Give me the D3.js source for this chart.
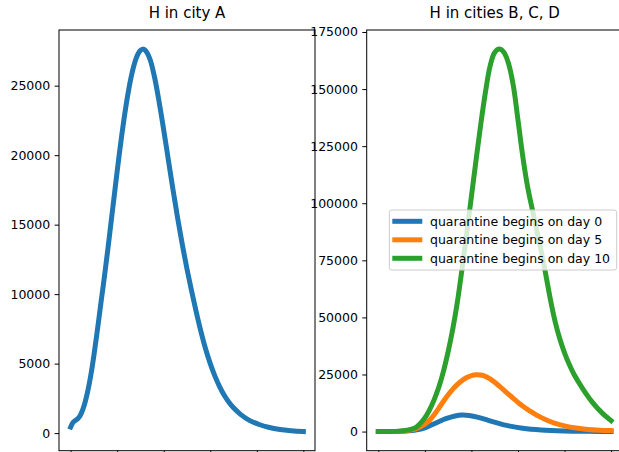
<!DOCTYPE html>
<html>
<head>
<meta charset="utf-8">
<script src="https://cdn.jsdelivr.net/npm/d3@7"></script>
<style>
  html, body { margin: 0; padding: 0; background: #fff; }
  svg { display: block; }
  text { font-family: "DejaVu Sans", sans-serif; fill: #000; }
</style>
</head>
<body>
<svg id="chart" width="619" height="452"></svg>
<script>
// ---------- data ----------
const xTicks = [0, 20, 40, 60, 80, 100];
const yTicksA = [0, 5000, 10000, 15000, 20000, 25000];
const yTicksB = [0, 25000, 50000, 75000, 100000, 125000, 150000, 175000];

const titleA = "H in city A";
const titleB = "H in cities B, C, D";

// city A
const daysA = [0, 1, 2, 3, 4, 5, 6, 7, 8, 9, 10, 11, 12, 13, 14, 15, 16, 17, 18, 19, 20, 21, 22, 23, 24, 25, 26, 27, 28, 29, 30, 31,
               32, 34, 36, 38, 40, 42, 44, 46, 48, 50, 52, 54, 56, 58, 60, 62, 64, 66, 68, 70, 73, 77, 81, 85, 90, 95, 100];
const valsA = [433, 760, 900, 1020, 1230, 1600, 2100, 2750, 3550, 4500, 5600, 6800, 8050, 9350, 10600, 11900, 13250, 14650, 16050, 17450, 18850, 20200, 21480, 22680, 23780, 24760, 25620, 26340, 26900, 27300, 27540, 27630,
               27560, 26950, 25650, 23850, 21800, 19650, 17500, 15450, 13550, 11800, 10200, 8700, 7300, 6050, 5000, 4100, 3350, 2720, 2220, 1820, 1350, 900, 620, 420, 260, 170, 110];

// cities B, C, D
const seriesNames = ["quarantine begins on day 0", "quarantine begins on day 5", "quarantine begins on day 10"];
const seriesColors = ["#1f77b4", "#ff7f0e", "#2ca02c"];

const days0 = [0, 10, 16, 20, 25, 29, 33, 36, 39, 43, 47, 51, 56, 62, 70, 80, 90, 100];
const vals0 = [0, 150, 700, 1600, 3900, 5650, 6850, 7250, 7050, 6200, 5000, 3800, 2500, 1450, 700, 280, 110, 40];

const days5 = [0, 10, 16, 20, 22, 24, 26, 28, 30, 32, 34, 36, 38, 40, 42, 44, 46, 48, 50, 52, 54, 56, 58, 60, 62, 65, 68, 72, 76, 80, 85, 90, 95, 100];
const vals5 = [0, 200, 1200, 3300, 5000, 7400, 10300, 13300, 16100, 18600, 20700, 22400, 23700, 24500, 24900, 24800, 24200, 23100, 21600, 19900, 18100, 16300, 14500, 12800, 11200, 9100, 7200, 5200, 3600, 2500, 1550, 950, 620, 430];

const days10 = [0, 10, 16, 20, 22, 24, 26, 28, 30, 32, 34, 36, 38, 40, 42, 44, 46, 48, 50, 52, 54, 56, 58, 60, 62, 64, 66, 68, 70, 72, 74, 76, 78, 80, 82, 84, 88, 92, 96, 100];
const vals10 = [0, 300, 1750, 6000, 9500, 14000, 19500, 26500, 35000, 45000, 57000, 71500, 87000, 103000, 119000, 134500, 148500, 160000, 166000, 167500, 166000, 161000, 151500, 136500, 121000, 108000, 98000, 88500, 79000, 68500, 57500, 48000, 40500, 34500, 29500, 25200, 18500, 12800, 8300, 4800];

// ---------- drawing ----------
const svg = d3.select("#chart");
const FS = 12.5;          // 10pt tick / legend font
const TS = 15;            // 12pt title font
const TICK = 4.4, PAD = 4.4;
const LW = 5;

function mplDomain(arrs) {
  const all = arrs.flat();
  const mn = d3.min(all), mx = d3.max(all);
  const r = mx - mn;
  return [mn - 0.05 * r, mx + 0.05 * r];
}

const axTop = 30, axBottom = 450.7;
const panels = [
  { x0: 59, x1: 315, title: titleA, yTicks: yTicksA,
    series: [{ d: daysA, v: valsA, c: seriesColors[0] }] },
  { x0: 366.7, x1: 622.7, title: titleB, yTicks: yTicksB,
    series: [{ d: days0, v: vals0, c: seriesColors[0] },
             { d: days5, v: vals5, c: seriesColors[1] },
             { d: days10, v: vals10, c: seriesColors[2] }] }
];

panels.forEach((p, i) => {
  const allDays = p.series.map(s => s.d);
  const allVals = p.series.map(s => s.v);
  const x = d3.scaleLinear().domain(mplDomain(allDays)).range([p.x0, p.x1]);
  const y = d3.scaleLinear().domain(mplDomain(allVals)).range([axBottom, axTop]);
  const g = svg.append("g");

  g.append("clipPath").attr("id", "clip" + i)
    .append("rect").attr("x", p.x0).attr("y", axTop)
    .attr("width", p.x1 - p.x0).attr("height", axBottom - axTop);

  const line = d3.line().x(d => x(d[0])).y(d => y(d[1])).curve(d3.curveCatmullRom.alpha(0.5));
  const lg = g.append("g").attr("clip-path", `url(#clip${i})`);
  p.series.forEach(s => {
    lg.append("path")
      .datum(s.d.map((dd, k) => [dd, s.v[k]]))
      .attr("d", line)
      .attr("fill", "none")
      .attr("stroke", s.c)
      .attr("stroke-width", LW)
      .attr("stroke-linecap", "square")
      .attr("stroke-linejoin", "round");
  });

  // axes
  const ya = g.append("g").attr("transform", `translate(${p.x0},0)`)
    .call(d3.axisLeft(y).tickValues(p.yTicks).tickFormat(d3.format("d"))
      .tickSize(TICK).tickPadding(PAD));
  ya.select(".domain").remove();
  ya.selectAll("line").attr("stroke", "#000").attr("stroke-width", 1);
  ya.selectAll("text").attr("font-size", FS).attr("font-family", "DejaVu Sans")
    .attr("fill", "#000");

  const xa = g.append("g").attr("transform", `translate(0,${axBottom})`)
    .call(d3.axisBottom(x).tickValues(xTicks).tickFormat("").tickSize(TICK));
  xa.select(".domain").remove();
  xa.selectAll("line").attr("stroke", "#000").attr("stroke-width", 1);

  // spines
  g.append("rect").attr("x", p.x0).attr("y", axTop)
    .attr("width", p.x1 - p.x0).attr("height", axBottom - axTop)
    .attr("fill", "none").attr("stroke", "#000").attr("stroke-width", 1);

  // title
  g.append("text").attr("x", (p.x0 + p.x1) / 2).attr("y", 17.5)
    .attr("text-anchor", "middle").attr("font-size", TS).text(p.title);

  // legend on panel B
  if (i === 1) {
    const L = { x: 389.3, y: 210, w: 227.4, h: 60 };
    const leg = g.append("g");
    leg.append("rect").attr("x", L.x).attr("y", L.y).attr("width", L.w).attr("height", L.h)
      .attr("rx", 2.5).attr("fill", "#fff").attr("fill-opacity", 0.8)
      .attr("stroke", "#cccccc").attr("stroke-width", 1);
    const rowY = d3.scaleLinear().domain([0, 2]).range([221.3, 258.3]);
    seriesNames.forEach((name, k) => {
      const yy = rowY(k);
      leg.append("line").attr("x1", 394.8).attr("x2", 419.8).attr("y1", yy).attr("y2", yy)
        .attr("stroke", seriesColors[k]).attr("stroke-width", LW).attr("stroke-linecap", "square");
      leg.append("text").attr("x", 430).attr("y", yy + 4.5)
        .attr("font-size", FS).text(name);
    });
  }
});
</script>
</body>
</html>
